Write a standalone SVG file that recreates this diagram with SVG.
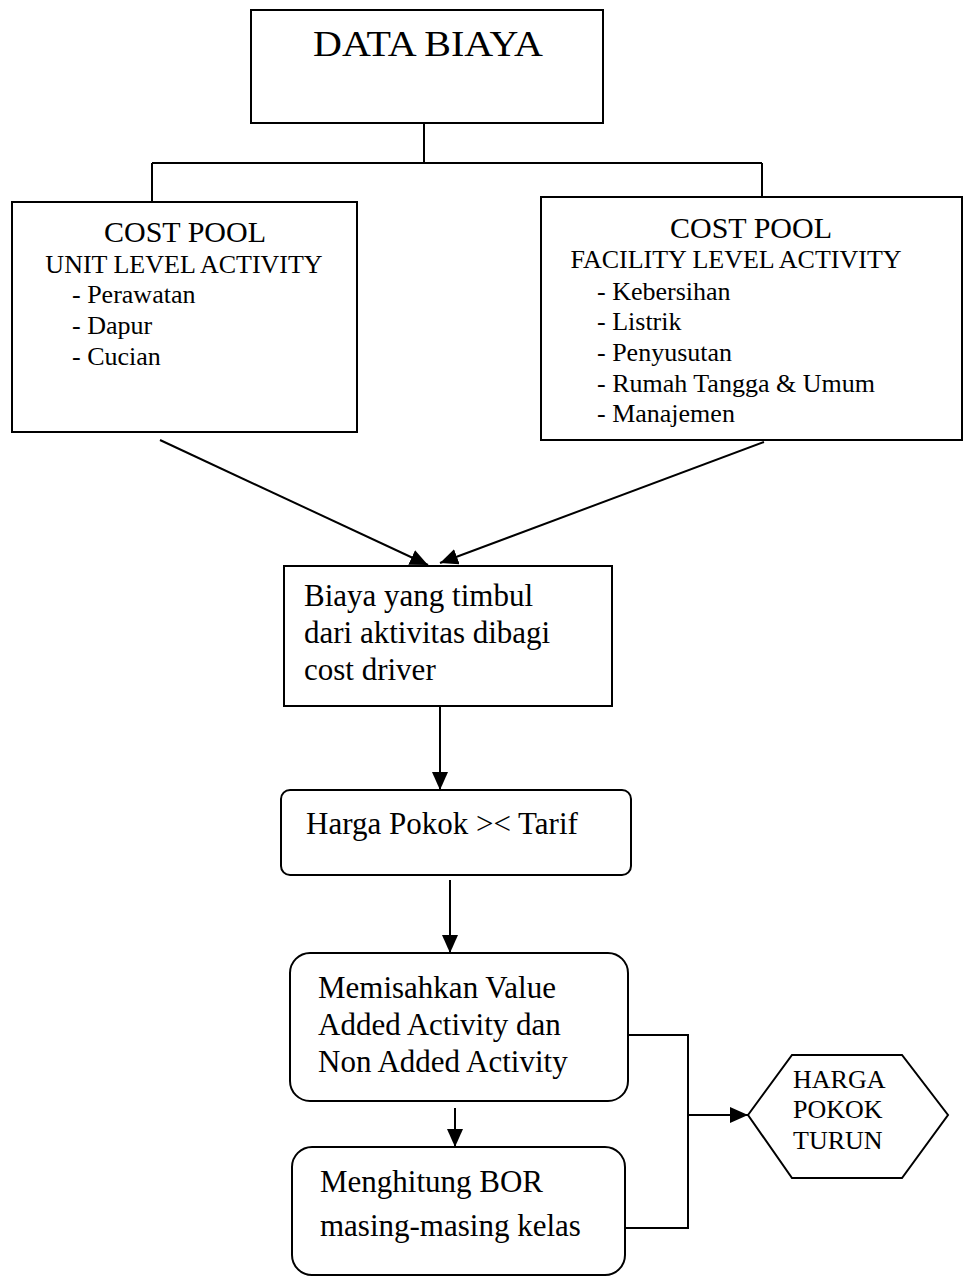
<svg xmlns="http://www.w3.org/2000/svg" width="963" height="1279" viewBox="0 0 963 1279">
<style>
.box{fill:#fff;stroke:#000;stroke-width:2}
.ln{fill:none;stroke:#000;stroke-width:2}
text{font-family:"Liberation Serif","Times New Roman",serif;fill:#000}
.h{font-size:30px}
.s{font-size:26px}
.m{font-size:31px}
.x{font-size:26px}
</style>
<defs>
<marker id="ah" markerUnits="userSpaceOnUse" markerWidth="20" markerHeight="16" refX="18" refY="8" orient="auto">
<path d="M0,0 L18,8 L0,16 Z" fill="#000"/>
</marker>
</defs>
<rect width="963" height="1279" fill="#fff"/>
<g id="connectors">
<path class="ln" d="M424,123 V163 M152,163 H762 M152,163 V202 M762,163 V197"/>
<path class="ln" d="M160,440 L428,565" marker-end="url(#ah)"/>
<path class="ln" d="M764,442 L440,563" marker-end="url(#ah)"/>
<path class="ln" d="M440,706 V790" marker-end="url(#ah)"/>
<path class="ln" d="M450,880 V953" marker-end="url(#ah)"/>
<path class="ln" d="M455,1108 V1147" marker-end="url(#ah)"/>
<path class="ln" d="M628,1035 H688 V1228 H625"/>
<path class="ln" d="M688,1115 H748" marker-end="url(#ah)"/>
</g>
<g id="data-biaya">
<rect class="box" x="251" y="10" width="352" height="113"/>
<text x="313" y="56" font-size="35" textLength="230" lengthAdjust="spacingAndGlyphs">DATA BIAYA</text>
</g>
<g id="cost-pool-unit">
<rect class="box" x="12" y="202" width="345" height="230"/>
<text class="h" x="185" y="242" text-anchor="middle">COST POOL</text>
<text class="s" x="184" y="273" text-anchor="middle">UNIT LEVEL ACTIVITY</text>
<text class="s" x="72" y="303">- Perawatan</text>
<text class="s" x="72" y="334">- Dapur</text>
<text class="s" x="72" y="365">- Cucian</text>
</g>
<g id="cost-pool-facility">
<rect class="box" x="541" y="197" width="421" height="243"/>
<text class="h" x="751" y="238" text-anchor="middle">COST POOL</text>
<text class="s" x="736" y="268" text-anchor="middle">FACILITY LEVEL ACTIVITY</text>
<text class="s" x="597" y="300">- Kebersihan</text>
<text class="s" x="597" y="330">- Listrik</text>
<text class="s" x="597" y="361">- Penyusutan</text>
<text class="s" x="597" y="392">- Rumah Tangga &amp; Umum</text>
<text class="s" x="597" y="422">- Manajemen</text>
</g>
<g id="biaya-timbul">
<rect class="box" x="284" y="566" width="328" height="140"/>
<text class="m" x="304" y="606">Biaya yang timbul</text>
<text class="m" x="304" y="643">dari aktivitas dibagi</text>
<text class="m" x="304" y="680">cost driver</text>
</g>
<g id="harga-pokok-tarif">
<rect class="box" x="281" y="790" width="350" height="85" rx="9"/>
<text class="m" x="306" y="834">Harga Pokok &gt;&lt; Tarif</text>
</g>
<g id="memisahkan">
<rect class="box" x="290" y="953" width="338" height="148" rx="20"/>
<text class="m" x="318" y="998">Memisahkan Value</text>
<text class="m" x="318" y="1035">Added Activity dan</text>
<text class="m" x="318" y="1072">Non Added Activity</text>
</g>
<g id="menghitung-bor">
<rect class="box" x="292" y="1147" width="333" height="128" rx="20"/>
<text class="m" x="320" y="1192">Menghitung BOR</text>
<text class="m" x="320" y="1236">masing-masing kelas</text>
</g>
<g id="harga-pokok-turun">
<polygon class="box" points="748,1115 792,1055 902,1055 948,1115 902,1178 792,1178"/>
<text class="x" x="793" y="1088">HARGA</text>
<text class="x" x="793" y="1118">POKOK</text>
<text class="x" x="793" y="1149">TURUN</text>
</g>
</svg>
